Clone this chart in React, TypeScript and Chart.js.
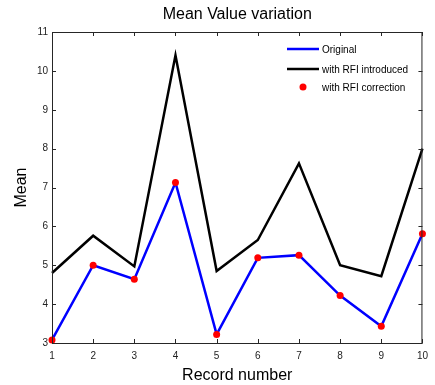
import React, { useEffect, useRef } from "react";
import { Chart, registerables } from "chart.js";

Chart.register(...registerables);

const records = [1, 2, 3, 4, 5, 6, 7, 8, 9, 10];
const original = [3.08, 5.0, 4.64, 7.13, 3.22, 5.19, 5.26, 4.22, 3.43, 5.81];
const withRFI = [4.8, 5.76, 4.97, 10.4, 4.85, 5.65, 7.62, 5.0, 4.72, 8.0];
const corrected = [3.08, 5.0, 4.64, 7.13, 3.22, 5.19, 5.26, 4.22, 3.43, 5.81];
const seriesLabels = ["Original", "with RFI introduced", "with RFI correction"];
const titleText = "Mean Value variation";
const xTitle = "Record number";
const yTitle = "Mean";

const FONT = "'Liberation Sans', Arial, sans-serif";

const decorPlugin = {
  id: "decor",
  afterDatasetsDraw(chart: any) {
    const ctx = chart.ctx;
    const { left, right, top, bottom } = chart.chartArea;
    const xs = chart.scales.x;
    const ys = chart.scales.y;
    ctx.save();
    ctx.strokeStyle = "#262626";
    ctx.lineWidth = 1;
    ctx.strokeRect(left + 0.5, top + 0.5, right - left - 1, bottom - top);
    const tl = 4;
    ctx.beginPath();
    xs.ticks.forEach((t: any) => {
      const px = Math.round(xs.getPixelForValue(t.value)) + 0.5;
      ctx.moveTo(px, bottom);
      ctx.lineTo(px, bottom - tl);
      ctx.moveTo(px, top);
      ctx.lineTo(px, top + tl);
    });
    ys.ticks.forEach((t: any) => {
      const py = Math.round(ys.getPixelForValue(t.value)) + 0.5;
      ctx.moveTo(left, py);
      ctx.lineTo(left + tl, py);
      ctx.moveTo(right, py);
      ctx.lineTo(right - tl, py);
    });
    ctx.stroke();

    // legend
    const ds = chart.data.datasets;
    const lx0 = 287, lx1 = 319, tx = 322;
    const rows = [49, 69, 87];
    ctx.font = "10px " + FONT;
    ctx.textBaseline = "middle";
    ctx.textAlign = "left";
    ctx.fillStyle = "#000";
    seriesLabels.forEach((lab, i) => {
      const y = rows[i];
      const d = ds[i];
      if (d.showLine === false) {
        ctx.beginPath();
        ctx.fillStyle = d.pointBackgroundColor;
        ctx.arc((lx0 + lx1) / 2, y, 3.5, 0, Math.PI * 2);
        ctx.fill();
      } else {
        ctx.beginPath();
        ctx.strokeStyle = d.borderColor;
        ctx.lineWidth = 2.5;
        ctx.moveTo(lx0, y);
        ctx.lineTo(lx1, y);
        ctx.stroke();
      }
      ctx.fillStyle = "#000";
      ctx.fillText(lab, tx, y + 1);
    });

    // titles
    ctx.fillStyle = "#000";
    ctx.textAlign = "center";
    ctx.textBaseline = "middle";
    ctx.font = "16px " + FONT;
    ctx.fillText(titleText, (left + right) / 2, 15);
    ctx.fillText(xTitle, (left + right) / 2, 376);
    ctx.save();
    ctx.translate(22, (top + bottom) / 2);
    ctx.rotate(-Math.PI / 2);
    ctx.fillText(yTitle, 0, 0);
    ctx.restore();
    ctx.restore();
  },
};

export default function App() {
  const ref = useRef<HTMLCanvasElement>(null);
  useEffect(() => {
    if (!ref.current) return;
    const toPts = (arr: number[]) => records.map((x, i) => ({ x, y: arr[i] }));
    const chart = new Chart(ref.current, {
      type: "line",
      data: {
        datasets: [
          {
            label: seriesLabels[0],
            data: toPts(original),
            borderColor: "#0000ff",
            borderWidth: 2.5,
            pointRadius: 0,
            tension: 0,
            order: 1,
            clip: false as any,
          },
          {
            label: seriesLabels[1],
            data: toPts(withRFI),
            borderColor: "#000000",
            borderWidth: 2.5,
            pointRadius: 0,
            tension: 0,
            order: 2,
            clip: false as any,
          },
          {
            label: seriesLabels[2],
            data: toPts(corrected),
            showLine: false,
            borderColor: "#ff0000",
            pointBackgroundColor: "#ff0000",
            pointBorderColor: "#ff0000",
            pointRadius: 3.5,
            pointBorderWidth: 0,
            order: 0,
            clip: false as any,
          },
        ] as any,
      },
      options: {
        responsive: false,
        animation: false,
        devicePixelRatio: 1,
        layout: { padding: { top: 32, right: 10, left: 0, bottom: 0 } },
        plugins: { legend: { display: false }, title: { display: false }, tooltip: { enabled: false } },
        scales: {
          x: {
            type: "linear",
            min: 1,
            max: 10,
            ticks: { stepSize: 1, padding: 7, color: "#222", font: { size: 10, family: FONT } },
            grid: { display: false, drawTicks: false },
            border: { display: false },
            afterFit: (s: any) => { s.height = 42; },
          },
          y: {
            type: "linear",
            min: 3,
            max: 11,
            ticks: { stepSize: 1, padding: 4, color: "#222", font: { size: 10, family: FONT } },
            grid: { display: false, drawTicks: false },
            border: { display: false },
            afterFit: (s: any) => { s.width = 52; },
          },
        },
      },
      plugins: [decorPlugin],
    });
    return () => chart.destroy();
  }, []);
  return (
    <div style={{ position: "fixed", left: 0, top: 0, width: 435, height: 385, background: "#fff" }}>
      <canvas ref={ref} width={435} height={385} style={{ width: 435, height: 385 }} />
    </div>
  );
}
